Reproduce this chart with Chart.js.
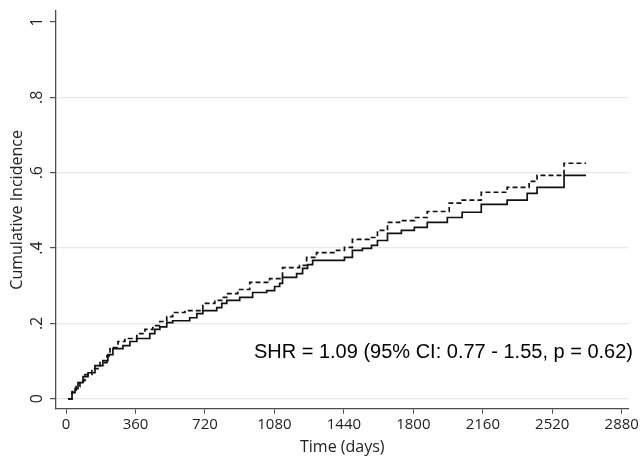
<!DOCTYPE html>
<html>
<head>
<meta charset="utf-8">
<script src="https://cdn.jsdelivr.net/npm/chart.js@4"></script>
<style>
  body { margin: 0; background: #fff; }
  #wrap { width: 641px; height: 457px; }
</style>
</head>
<body>
<div id="wrap"><canvas id="grafico"></canvas></div>
<script>
// tempos (dias) e incidência acumulada - linha contínua
const tempoA = [10, 31, 47, 62, 88, 114, 150, 191, 217, 243, 295, 331, 367, 434, 460, 486, 522, 553, 641, 678, 709, 781, 807, 833, 900, 967, 1040, 1081, 1107, 1122, 1195, 1226, 1252, 1278, 1443, 1484, 1536, 1583, 1614, 1666, 1738, 1805, 1872, 1976, 2053, 2152, 2286, 2390, 2441, 2581, 2695];
const incidA = [0, .016, .027, .043, .059, .069, .088, .101, .117, .133, .141, .152, .160, .173, .184, .191, .202, .207, .215, .226, .234, .242, .253, .261, .269, .282, .287, .298, .306, .322, .332, .346, .356, .367, .375, .394, .399, .407, .420, .439, .447, .455, .468, .481, .495, .516, .527, .545, .561, .593, .593];

// linha tracejada
const tempoB = [10, 31, 52, 72, 98, 134, 176, 212, 228, 269, 305, 367, 409, 450, 486, 522, 553, 616, 709, 771, 807, 833, 890, 952, 1055, 1122, 1210, 1247, 1298, 1402, 1443, 1484, 1572, 1614, 1666, 1728, 1805, 1872, 1986, 2053, 2152, 2286, 2400, 2441, 2581, 2695];
const incidB = [0, .019, .032, .048, .064, .080, .096, .114, .136, .152, .160, .173, .184, .194, .205, .218, .229, .234, .253, .261, .269, .279, .290, .309, .319, .348, .354, .375, .388, .394, .402, .423, .428, .447, .468, .473, .481, .497, .519, .527, .548, .561, .577, .593, .625, .625];

const ticksX = [0, 360, 720, 1080, 1440, 1800, 2160, 2520, 2880];
const ticksY = [0, .2, .4, .6, .8, 1];
const rotulosY = ['0', '.2', '.4', '.6', '.8', '1'];
const textoSHR = 'SHR = 1.09 (95% CI: 0.77 - 1.55, p = 0.62)';

const fonteEixo = { family: 'Open Sans', size: 15 };
const fonteTitulo = { family: 'Open Sans', size: 16 };
const corEixo = '#4d4d4d';

const pontos = (xs, ys) => xs.map((x, i) => ({ x, y: ys[i] }));

// rótulos do eixo y girados + texto do SHR
const anotacao = {
  id: 'anotacao',
  afterDatasetsDraw(chart) {
    const ctx = chart.ctx;
    const escalaY = chart.scales.y;
    ctx.save();
    ctx.fillStyle = '#222';
    ctx.font = '16px "Open Sans"';
    ctx.textAlign = 'center';
    ctx.textBaseline = 'middle';
    ticksY.forEach((v, i) => {
      ctx.save();
      ctx.translate(37, escalaY.getPixelForValue(v));
      ctx.rotate(-Math.PI / 2);
      ctx.fillText(rotulosY[i], 0, 0);
      ctx.restore();
    });
    ctx.font = '20px "Liberation Sans", Arial, sans-serif';
    ctx.fillStyle = '#000';
    ctx.textAlign = 'right';
    ctx.fillText(textoSHR, 633, 352);
    ctx.restore();
  }
};

const grafico = new Chart(document.getElementById('grafico'), {
  type: 'line',
  data: {
    datasets: [{
      data: pontos(tempoA, incidA),
      borderColor: '#111',
      borderWidth: 1.7,
      stepped: true,
      pointRadius: 0,
      fill: false
    }, {
      data: pontos(tempoB, incidB),
      borderColor: '#111',
      borderWidth: 1.7,
      borderDash: [5, 3],
      stepped: true,
      pointRadius: 0,
      fill: false
    }]
  },
  options: {
    responsive: true,
    maintainAspectRatio: false,
    animation: false,
    layout: { padding: { top: 11, right: 9, left: 8, bottom: 0 } },
    plugins: { legend: { display: false }, tooltip: { enabled: false } },
    scales: {
      x: {
        type: 'linear',
        min: -52,
        max: 2915,
        afterBuildTicks: s => { s.ticks = ticksX.map(v => ({ value: v })); },
        ticks: { font: fonteEixo, color: '#222', padding: 2, maxRotation: 0, callback: v => String(v) },
        grid: { drawOnChartArea: false, drawTicks: true, tickLength: 5, tickColor: corEixo },
        border: { color: corEixo, width: 1.3 },
        title: { display: true, text: 'Time (days)', font: fonteTitulo, color: '#222', padding: { top: 2, bottom: 0 } }
      },
      y: {
        type: 'linear',
        min: -0.0266,
        max: 1.029,
        afterBuildTicks: s => { s.ticks = ticksY.map(v => ({ value: v })); },
        afterFit: s => { s.width = 48; },
        ticks: { display: false },
        grid: {
          color: c => (c.tick && c.tick.value < 0.99 ? '#e8e8e8' : 'rgba(0,0,0,0)'),
          lineWidth: 1.2,
          drawTicks: true,
          tickLength: 6,
          tickColor: corEixo
        },
        border: { color: corEixo, width: 1.3 },
        title: { display: true, text: 'Cumulative Incidence', font: fonteTitulo, color: '#222', padding: { top: 0, bottom: 0 } }
      }
    }
  },
  plugins: [anotacao]
});
</script>
</body>
</html>
